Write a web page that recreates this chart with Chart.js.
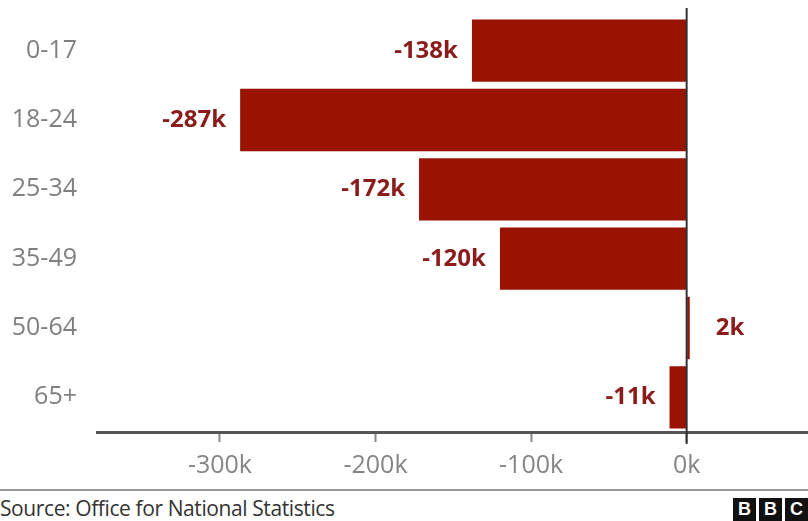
<!DOCTYPE html>
<html>
<head>
<meta charset="utf-8">
<script src="https://cdn.jsdelivr.net/npm/chart.js@4/dist/chart.umd.min.js"></script>
<style>
  html, body { margin: 0; padding: 0; background: #fff; }
  #wrap { position: relative; width: 808px; height: 521px; overflow: hidden; font-family: "Open Sans", "Noto Sans", sans-serif; }
  #cv { position: absolute; left: 0; top: 0; }
  #rule { position: absolute; left: 0; top: 489px; width: 808px; height: 2px; background: #9a9a9a; }
  #source { position: absolute; left: 0; top: 494px; font-size: 21px; color: #333; letter-spacing: -0.4px; }
  #bbc { position: absolute; right: 0; top: 498px; display: flex; gap: 3px; }
  #bbc span { display: block; width: 23px; height: 23px; background: #111; color: #fff; font: bold 18px "Liberation Sans", Arial, sans-serif; text-align: center; line-height: 23px; }
</style>
</head>
<body>
<div id="wrap">
  <canvas id="cv" width="808" height="490"></canvas>
  <div id="rule"></div>
  <div id="source">Source: Office for National Statistics</div>
  <div id="bbc"><span>B</span><span>B</span><span>C</span></div>
</div>
<script>
const categories = ["0-17", "18-24", "25-34", "35-49", "50-64", "65+"];
const changeThousands = [-138, -287, -172, -120, 2, -11];
const valueLabels = ["-138k", "-287k", "-172k", "-120k", "2k", "-11k"];
const xTickValues = [-300, -200, -100, 0];

const dataLabelPlugin = {
  id: "dataLabels",
  afterDatasetsDraw(chart) {
    const ctx = chart.ctx;
    const meta = chart.getDatasetMeta(0);
    const xs = chart.scales.x;
    const zero = xs.getPixelForValue(0);
    ctx.save();
    // zero line
    ctx.strokeStyle = "#333";
    ctx.lineWidth = 2;
    ctx.beginPath();
    ctx.moveTo(zero, 8);
    ctx.lineTo(zero, chart.chartArea.bottom + 12);
    ctx.stroke();
    ctx.font = "bold 24px 'Open Sans', 'Noto Sans', sans-serif";
    ctx.fillStyle = "#8a1c1c";
    ctx.textBaseline = "middle";
    meta.data.forEach((bar, i) => {
      const v = changeThousands[i];
      if (v < 0) {
        ctx.textAlign = "right";
        ctx.fillText(valueLabels[i], bar.x - 14, bar.y);
      } else {
        ctx.textAlign = "left";
        ctx.fillText(valueLabels[i], bar.x + 26, bar.y);
      }
    });
    ctx.restore();
  }
};

new Chart(document.getElementById("cv"), {
  type: "bar",
  data: {
    labels: categories,
    datasets: [{
      data: changeThousands,
      backgroundColor: "#9a1200",
      borderWidth: 0,
      barPercentage: 0.9,
      categoryPercentage: 1.0
    }]
  },
  options: {
    indexAxis: "y",
    responsive: false,
    animation: false,
    events: [],
    layout: { padding: { top: 16, right: 0, left: 0, bottom: 0 } },
    plugins: { legend: { display: false }, tooltip: { enabled: false }, title: { display: false } },
    scales: {
      x: {
        min: -379,
        max: 78,
        afterBuildTicks(scale) { scale.ticks = xTickValues.map(v => ({ value: v })); },
        afterFit(scale) { scale.height = 58; scale.paddingLeft = 0; scale.paddingRight = 0; },
        grid: { drawOnChartArea: false, drawTicks: true, tickLength: 10, tickColor: "#888", tickWidth: 2 },
        border: { display: true, color: "#555", width: 3 },
        ticks: {
          padding: 9,
          color: "#858585",
          font: { family: "'Open Sans', 'Noto Sans', sans-serif", size: 25 },
          callback: v => v + "k",
          maxRotation: 0
        }
      },
      y: {
        afterFit(scale) { scale.width = 97; scale.paddingTop = 0; scale.paddingBottom = 0; },
        grid: { display: false },
        border: { display: false },
        ticks: {
          padding: 12,
          color: "#808080",
          font: { family: "'Open Sans', 'Noto Sans', sans-serif", size: 25 }
        }
      }
    }
  },
  plugins: [dataLabelPlugin]
});
</script>
</body>
</html>
